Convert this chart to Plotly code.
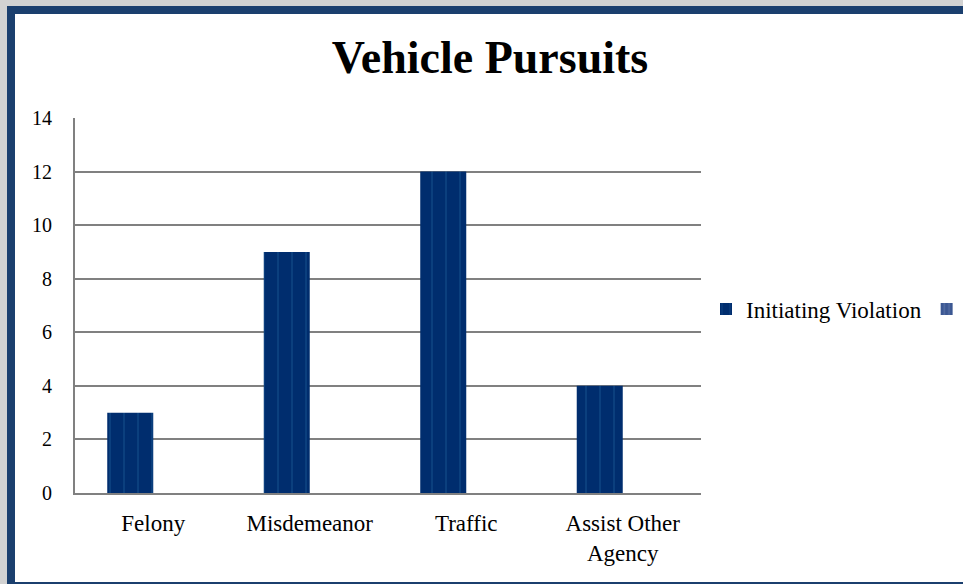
import plotly.graph_objects as go

categories = ["Felony", "Misdemeanor", "Traffic", "Assist Other<br>Agency"]
initiating_violation = [3, 9, 12, 4]
second_series = [0, 0, 0, 0]
y_ticks = [0, 2, 4, 6, 8, 10, 12, 14]

W, H = 963, 584
L, R, T, B = 75, 262, 118, 91
pw, ph = W - L - R, H - T - B

def px_x(x):
    return (x - L) / pw

def px_y(y):
    return (H - B - y) / ph

FONT = "Liberation Serif"
NAVY = "#002d6e"

fig = go.Figure()
fig.add_trace(go.Bar(
    x=categories, y=initiating_violation, name="Initiating Violation",
    marker=dict(color=NAVY, line=dict(width=0),
                pattern=dict(shape="|", fgcolor="#1a5892", bgcolor=NAVY, size=14, solidity=0.12)),
))
fig.add_trace(go.Bar(
    x=categories, y=second_series, name=" ",
    marker=dict(color="#3b5792", line=dict(width=0),
                pattern=dict(shape="|", fgcolor="#6f86b4", bgcolor="#3b5792", size=6, solidity=0.3)),
))

fig.update_layout(
    width=W, height=H,
    margin=dict(l=L, r=R, t=T, b=B, pad=0, autoexpand=False),
    paper_bgcolor="#d2d2d2",
    plot_bgcolor="rgba(0,0,0,0)",
    barmode="group", bargap=0.412, bargroupgap=0,
    title=dict(text="<b>Vehicle Pursuits</b>", x=490 / W, xanchor="center", xref="container",
               y=1 - 57 / H, yanchor="middle",
               font=dict(family=FONT, size=46, color="#000000")),
    font=dict(family=FONT, color="#000000"),
    xaxis=dict(showgrid=False, showline=True, linecolor="#808080", linewidth=2,
               ticks="", ticklabelstandoff=8, tickfont=dict(size=23, color="#000000"),
               fixedrange=True),
    yaxis=dict(range=[0, 14], tickvals=y_ticks, showgrid=True, gridcolor="#808080", gridwidth=2,
               showline=True, linecolor="#808080", linewidth=2, zeroline=False,
               ticks="outside", ticklen=17, tickcolor="rgba(0,0,0,0)",
               tickfont=dict(size=20, color="#000000"), fixedrange=True),
    legend=dict(orientation="h", x=px_x(706), xanchor="left", y=px_y(309), yanchor="middle",
                font=dict(family=FONT, size=23, color="#000000"), bgcolor="rgba(0,0,0,0)",
                itemwidth=30, tracegroupgap=0),
    showlegend=True,
    shapes=[
        dict(type="rect", xref="paper", yref="paper", layer="below",
             x0=px_x(11), x1=px_x(975), y0=px_y(10), y1=px_y(586),
             fillcolor="#ffffff", line=dict(color="#1b3f6e", width=8)),
    ],
)

fig.write_html("out.html", config={"displayModeBar": False},
               post_script="document.body.style.margin='0';")
